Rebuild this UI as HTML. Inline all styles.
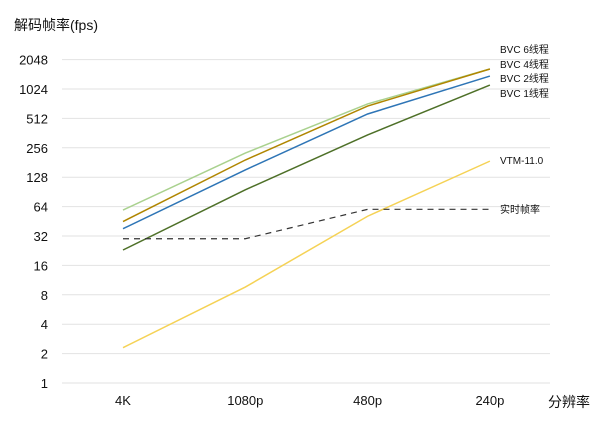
<!DOCTYPE html>
<html><head><meta charset="utf-8"><style>
body{margin:0;background:#fff}
svg text{font-family:"Liberation Sans","Noto Sans CJK SC",sans-serif;fill:#111}
</style></head><body>
<svg id="chart" width="600" height="418" viewBox="0 0 600 418" xmlns="http://www.w3.org/2000/svg">
<text x="14" y="30" font-size="14">解码帧率(fps)</text>
<text x="548" y="407" font-size="14">分辨率</text>
<g id="grid"></g><g id="series"></g>
</svg>
<script>
const categories=["4K","1080p","480p","240p"];
const yTicks=[1,2,4,8,16,32,64,128,256,512,1024,2048];
const seriesNames=["BVC 6线程","BVC 4线程","BVC 2线程","BVC 1线程","VTM-11.0","实时帧率"];
const bvc6=[59,226,720,1640];
const bvc4=[45,192,685,1640];
const bvc2=[38,152,568,1390];
const bvc1=[23,95,347,1125];
const vtm=[2.3,9.6,51,187];
const realtime=[30,30,60,60];
const NS="http://www.w3.org/2000/svg";
const x=i=>123+i*122.3;
const y=v=>383-Math.log2(v)*29.4;
const grid=document.getElementById('grid'),ser=document.getElementById('series');
function mk(tag,attrs,parent){const e=document.createElementNS(NS,tag);for(const k in attrs)e.setAttribute(k,attrs[k]);parent.appendChild(e);return e;}
yTicks.forEach(t=>{
 const l=mk('line',{x1:62,x2:550,y1:y(t),y2:y(t),stroke:'#e2e2e2','stroke-width':1},grid);
 
 
 const tx=mk('text',{x:48,y:y(t)+5,'font-size':13,'text-anchor':'end'},grid);tx.textContent=t;
 
 
});
categories.forEach((c,i)=>{
 const tx=mk('text',{x:x(i),y:405,'font-size':13,'text-anchor':'middle'},grid);tx.textContent=c;
 
 
});
const all=[bvc6,bvc4,bvc2,bvc1,vtm,realtime];
const colors=['#a9d18e','#b08600','#2e75b6','#4e7028','#f5d255','#333'];
const labelY=[53,68,82,97,164,213];
all.forEach((d,s)=>{
 const p=mk('polyline',{points:d.map((v,i)=>x(i)+','+y(v)).join(' '),fill:'none',stroke:colors[s],'stroke-width':s==5?1.2:1.5},ser);
 if(s==5)p.setAttribute('stroke-dasharray','6,5');
 
 
 const tx=mk('text',{x:500,y:labelY[s],'font-size':10},ser);tx.textContent=seriesNames[s];
 
 
});
</script>
</body></html>
